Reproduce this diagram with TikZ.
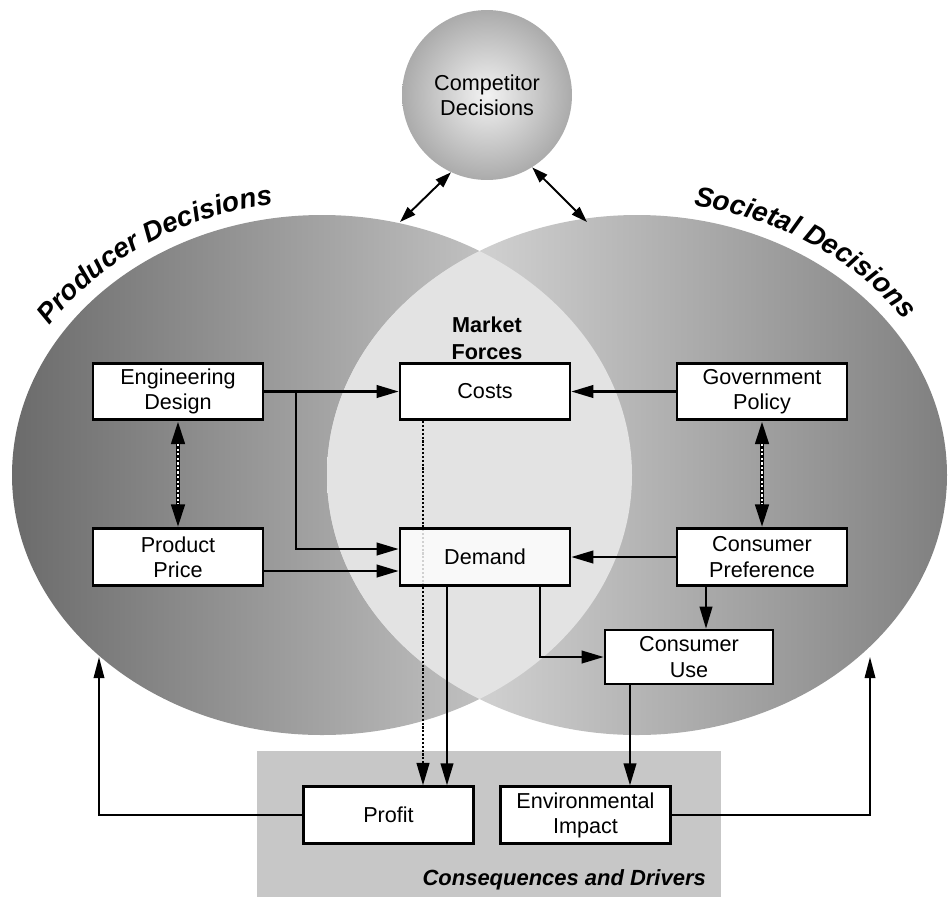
\documentclass[tikz,border=0pt]{standalone}
\usepackage{fontspec}
\setmainfont{Liberation Sans}
\usetikzlibrary{arrows.meta,calc,decorations.text}

\newcommand\dgboxfont{\fontsize{12.3pt}{14.3pt}\selectfont}
\newcommand\dgmarketfont{\fontsize{12.3pt}{15.3pt}\selectfont\bfseries}
\newcommand\dgconsfont{\fontsize{12.5pt}{15pt}\selectfont\bfseries\itshape}
\newcommand\dgarcfont{\fontsize{15.8pt}{18pt}\selectfont\bfseries\itshape}

\begin{document}
\begin{tikzpicture}[x=0.02cm,y=-0.02cm,
  box/.style={draw=black, line width=1.5pt, fill=white, minimum width=3.4cm,
    minimum height=1.13cm, inner sep=0pt, align=center, font=\dgboxfont},
  link/.style={line width=1.3pt, -{Triangle[length=0.44cm,width=0.25cm]}},
  dotlink/.style={line width=1.5pt, dash pattern=on 1.2pt off 1pt,
    -{Triangle[length=0.45cm,width=0.25cm]}},
  feedback/.style={line width=1pt, -{Triangle[length=0.42cm,width=0.21cm]}},
  comparrow/.style={line width=1.1pt,
    {Triangle[length=0.32cm,width=0.21cm]}-{Triangle[length=0.32cm,width=0.21cm]}},
  tradeoff/.style={line width=2.4pt,
    {Triangle[length=0.46cm,width=0.26cm]}-{Triangle[length=0.46cm,width=0.26cm]}},
  tradeoffdots/.style={white, line width=1.1pt, dash pattern=on 1.3pt off 1.3pt,
    shorten <=0.46cm, shorten >=0.46cm},
]
\useasboundingbox (0,0) rectangle (951,897);

% the two decision spheres and their overlap
\shade[left color=black!58, right color=black!14]
  (322,475) ellipse [x radius=310, y radius=260];
\shade[left color=black!8, right color=black!50]
  (637,475) ellipse [x radius=310, y radius=260];
\begin{scope}
  \clip (322,475) ellipse [x radius=310, y radius=260];
  \fill[black!11] (637,475) ellipse [x radius=310, y radius=260];
\end{scope}

% curved titles
\path[decorate, decoration={text along path, text align=center,
    text={|\dgarcfont|Producer Decisions}}]
  ([shift={(-165:324 and 274)}]322,475)
  arc[start angle=-165, end angle=-83, x radius=324, y radius=274];
\path[decorate, decoration={text along path, text align=center,
    text={|\dgarcfont|Societal Decisions}}]
  ([shift={(-97:324 and 274)}]637,475)
  arc[start angle=-97, end angle=-15, x radius=324, y radius=274];

% competitor sphere
\node[circle, minimum size=3.4cm, inner sep=0pt, shade,
  inner color=black!5, outer color=black!33, align=center, font=\dgboxfont]
  (comp) at (487,95) {Competitor\\Decisions};
\coordinate (pdtop) at (400,222);
\coordinate (sdtop) at (587,222);
\draw[comparrow] (comp.245) -- (pdtop);
\draw[comparrow] (comp.302) -- (sdtop);

\node[font=\dgmarketfont, align=center] (market) at (487,338) {Market\\Forces};

% consequences panel
\fill[black!22] (257,751) rectangle (721,897);
\node[font=\dgconsfont, anchor=east] (conslabel) at (712,880) {Consequences and Drivers};

% boxes
\node[box] (eng) at (178,391.5) {Engineering\\Design};
\node[box] (price) at (178,557) {Product\\Price};
\node[box] (costs) at (485,391.5) {Costs};
\node[box] (gov) at (762,391.5) {Government\\Policy};
\node[box] (pref) at (762,557) {Consumer\\Preference};
\node[box, minimum width=3.36cm, minimum height=1.08cm] (use) at (689,657) {Consumer\\Use};
\node[box] (profit) at (388.5,815) {Profit};
\node[box] (env) at (585.5,815) {Environmental\\Impact};

% costs feed profit (runs behind the demand box)
\coordinate (c1) at ($(costs.south)+(-62,0)$);
\draw[dotlink] (c1) -- (c1 |- profit.north);

\node[box, fill opacity=0.82, text opacity=1, draw opacity=1] (demand) at (485,557) {Demand};

% connectors
\draw[link] (eng.east) -- (costs.west);
\coordinate (e1) at ($(eng.east)+(32,0)$);
\draw[link] (e1) |- ($(demand.west)+(0,-8)$);
\draw[link] ($(price.east)+(0,14)$) -- ($(demand.west)+(0,14)$);
\draw[link] (gov.west) -- (costs.east);
\draw[link] (pref.west) -- (demand.east);
\coordinate (p1) at ($(pref.south)+(-56,0)$);
\draw[link] (p1) -- (p1 |- use.north);
\coordinate (d2) at ($(demand.south)+(55,0)$);
\draw[link] (d2) |- (use.west);
\coordinate (d1) at ($(demand.south)+(-38,0)$);
\draw[link] (d1) -- (d1 |- profit.north);
\coordinate (u1) at ($(use.south)+(-59,0)$);
\draw[link] (u1) -- (u1 |- env.north);

% trade-off links
\draw[tradeoff] (eng.south) -- (price.north);
\draw[tradeoffdots] (eng.south) -- (price.north);
\draw[tradeoff] (gov.south) -- (pref.north);
\draw[tradeoffdots] (gov.south) -- (pref.north);

% feedback loops
\coordinate (lp) at (99,657);
\coordinate (rp) at (870,657);
\draw[feedback] (profit.west) -| (lp);
\draw[feedback] (env.east) -| (rp);
\end{tikzpicture}
\end{document}
